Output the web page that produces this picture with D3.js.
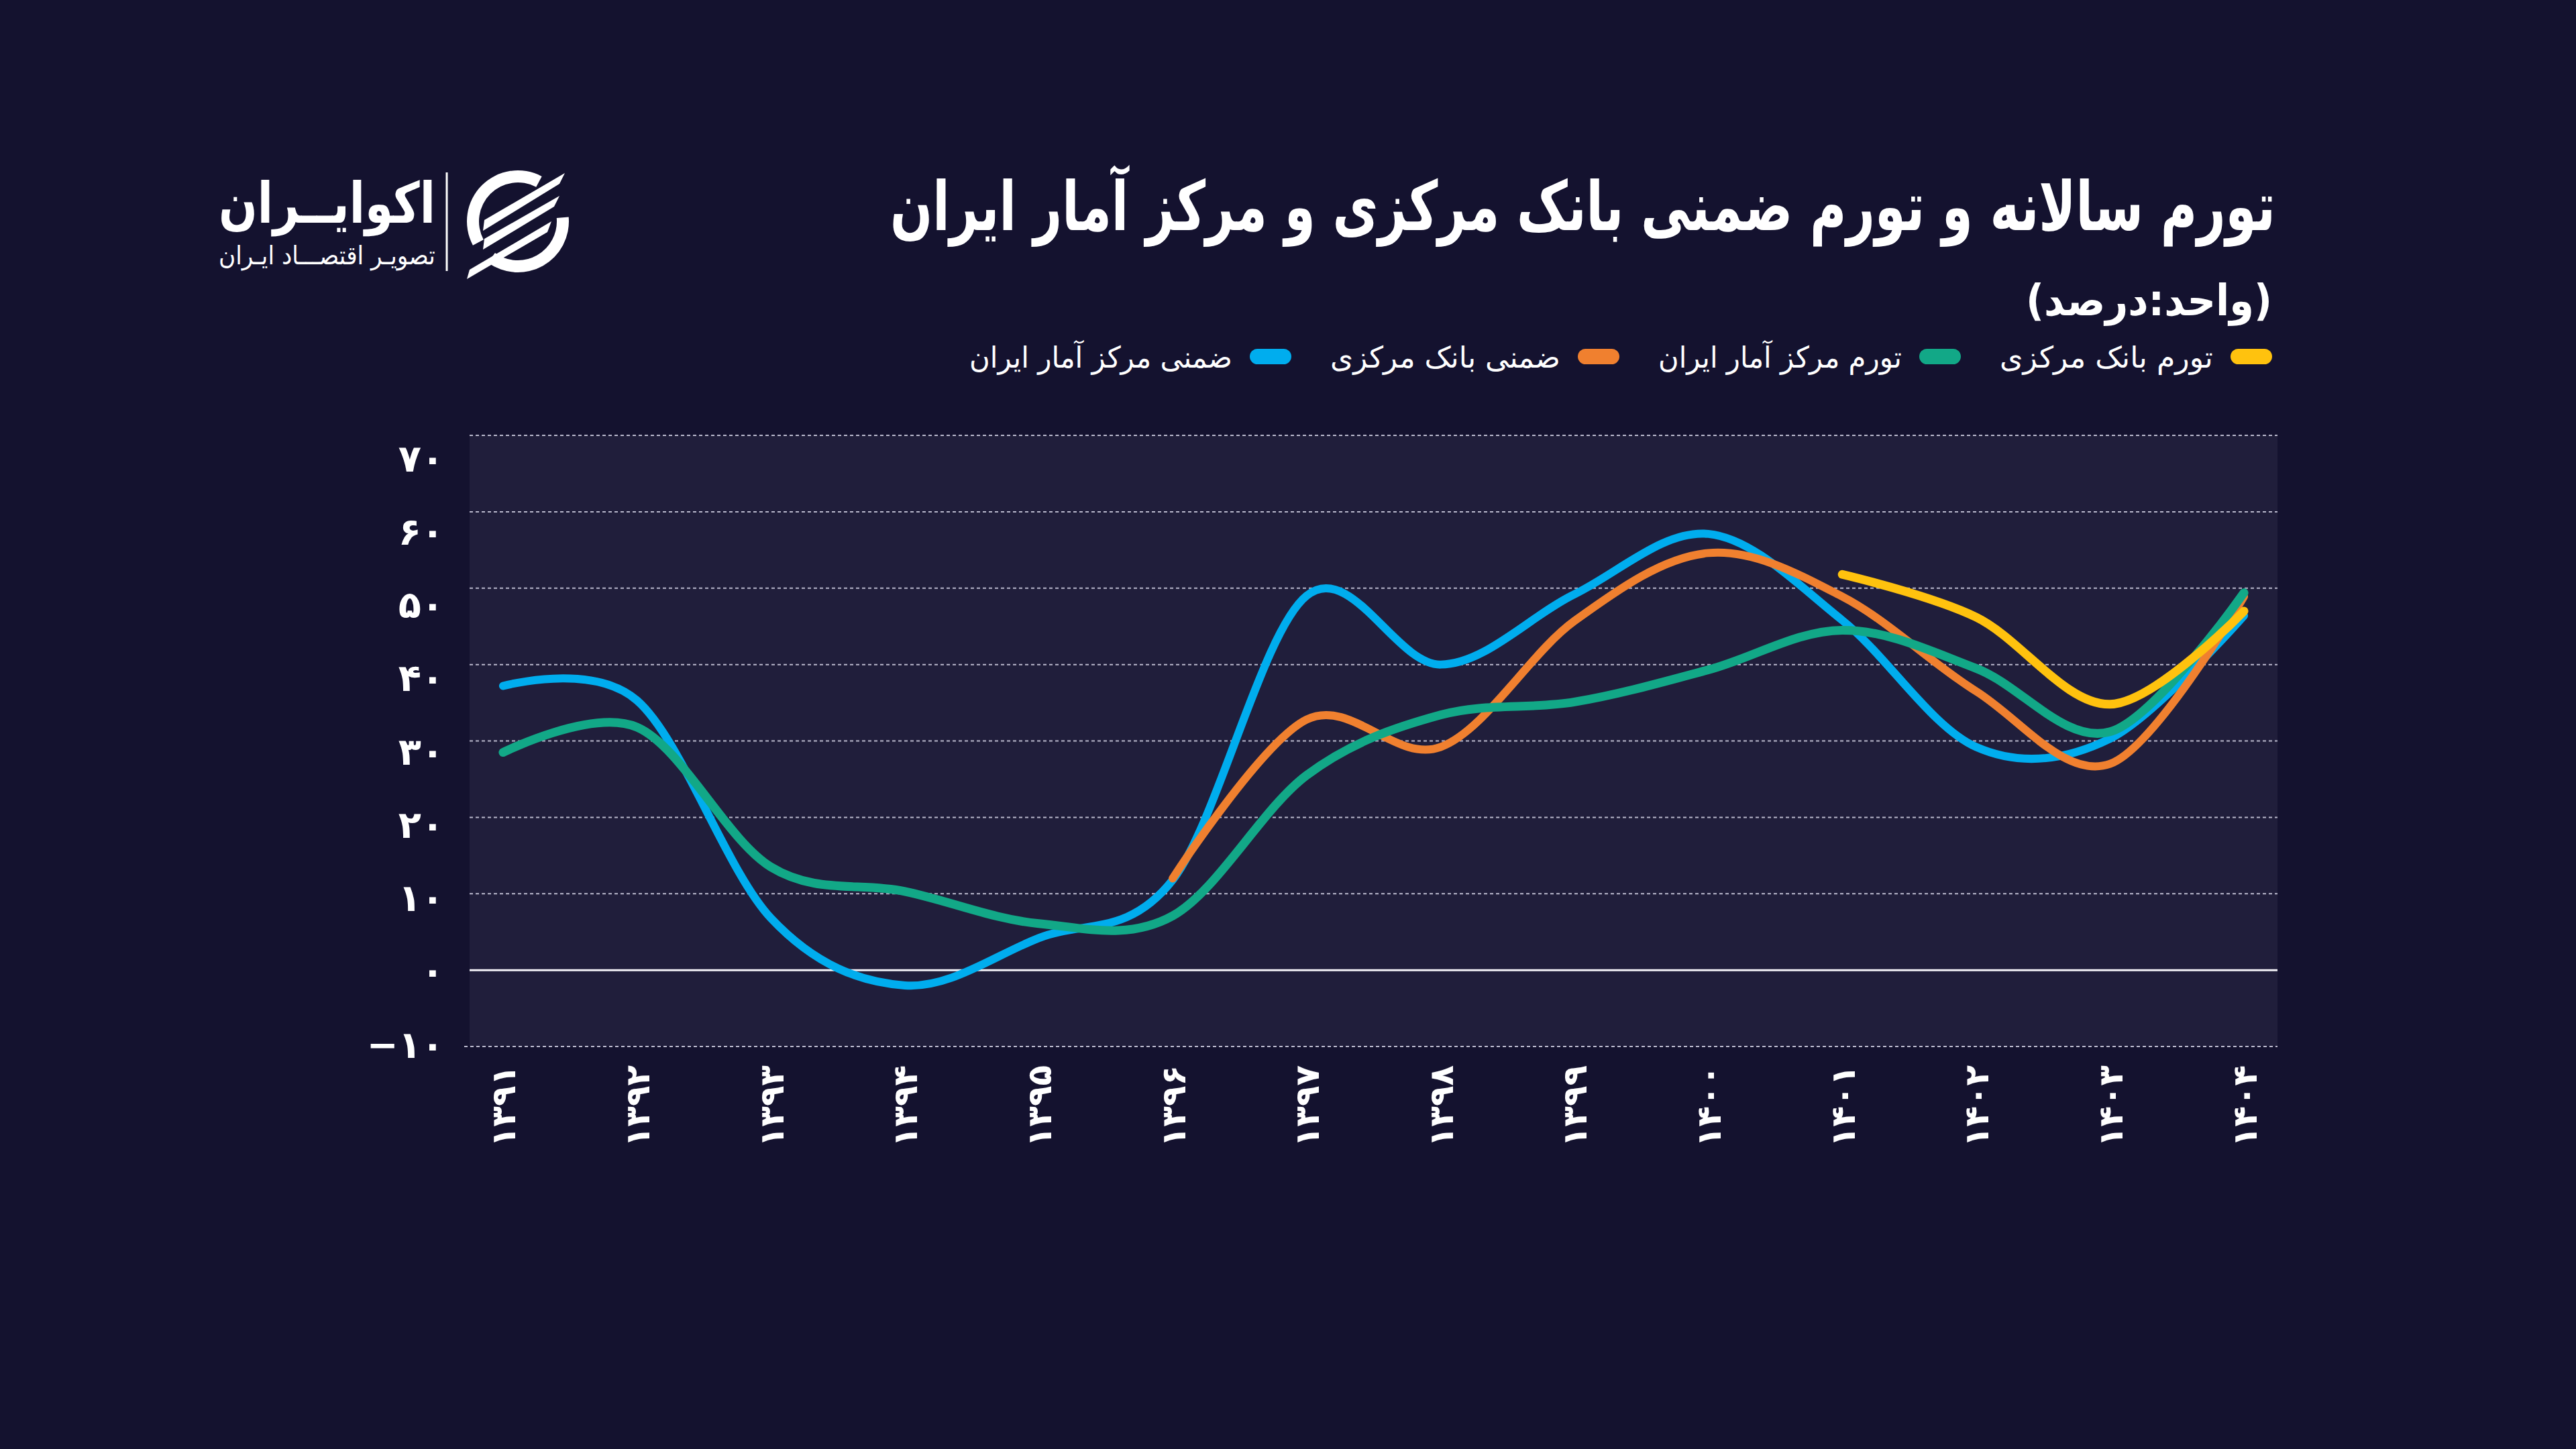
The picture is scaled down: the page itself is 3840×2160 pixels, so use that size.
<!DOCTYPE html>
<html>
<head>
<meta charset="utf-8">
<script src="https://cdn.jsdelivr.net/npm/d3@7"></script>
<style>
	body { margin: 0; background: #14122f; }
	svg text { font-family: "DejaVu Sans", sans-serif; fill: #ffffff; }
</style>
</head>
<body>
<div id="chart"></div>
<script>
//data///////////////////////////////////////////////////////////////////////////
var years = ['۱۳۹۱', '۱۳۹۲', '۱۳۹۳', '۱۳۹۴', '۱۳۹۵', '۱۳۹۶', '۱۳۹۷',
	'۱۳۹۸', '۱۳۹۹', '۱۴۰۰', '۱۴۰۱', '۱۴۰۲', '۱۴۰۳', '۱۴۰۴'];
var yTicks = [-10, 0, 10, 20, 30, 40, 50, 60, 70];

var seriesNames = ['تورم بانک مرکزی', 'تورم مرکز آمار ایران', 'ضمنی بانک مرکزی', 'ضمنی مرکز آمار ایران'];
var seriesColors = ['#ffc20e', '#12a887', '#f0802f', '#00adee'];

// تورم بانک مرکزی
var cbiInflation = [null, null, null, null, null, null, null, null, null, null, 51.8, 46.2, 34.8, 47.0];
// تورم مرکز آمار ایران
var sciInflation = [28.5, 31.8, 13.5, 10.3, 6.1, 7.1, 25.5, 33.4, 35.1, 39.3, 44.5, 39.5, 31.2, 49.4];
// ضمنی بانک مرکزی
var cbiImplicit = [null, null, null, null, null, 12.0, 32.8, 29.2, 45.7, 54.6, 48.9, 36.5, 27.0, 48.9];
// ضمنی مرکز آمار ایران
var sciImplicit = [37.2, 35.3, 6.8, -2.0, 4.2, 11.8, 49.0, 40.0, 49.2, 57.1, 45.8, 29.2, 30.3, 46.4];

//layout///////////////////////////////////////////////////////////////////////////
var width = 3840, height = 2160;
var plot = {left: 700, right: 3395, top: 649, bottom: 1560};
var legendTextWidths = [318, 363, 343, 392];

var allSeries = [cbiInflation, sciInflation, cbiImplicit, sciImplicit];
var strokeWidths = [13, 13, 12, 12];
var drawOrder = [3, 2, 1, 0];

function toFa(v) {
	return String(v).replace(/\d/g, function(d) { return '۰۱۲۳۴۵۶۷۸۹'[+d]; }).replace('-', '−');
}

// put a text so its right edge sits at `right`, squeezed to `w` pixels wide
function placeText(parent, str, right, baseline, w, size, weight) {
	var g = parent.append('g');
	var t = g.append('text')
		.attr('x', 0)
		.attr('y', 0)
		.style('font-size', size + 'px')
		.style('font-weight', weight)
		.text(str);
	var b = t.node().getBBox();
	var s = w ? w / b.width : 1;
	g.attr('transform', 'translate(' + (right - (b.x + b.width) * s) + ',' + baseline + ') scale(' + s + ',1)');
	return g;
}

var svg = d3.select('#chart').append('svg')
	.attr('width', width)
	.attr('height', height);

svg.append('rect')
	.attr('width', width)
	.attr('height', height)
	.attr('fill', '#14122f');

var x = d3.scalePoint()
	.domain(years)
	.range([plot.left, plot.right])
	.padding(0.25);

var y = d3.scaleLinear()
	.domain([-10, 70])
	.range([plot.bottom, plot.top]);

// the tick labels in the original sit on a slightly tighter scale than the grid
var yLabel = d3.scaleLinear()
	.domain([-10, 70])
	.range([1556, 682]);

//plot area///////////////////////////////////////////////////////////////////////////
svg.append('rect')
	.attr('x', plot.left)
	.attr('y', plot.top)
	.attr('width', plot.right - plot.left)
	.attr('height', plot.bottom - plot.top)
	.attr('fill', '#201e3b');

svg.append('g').selectAll('line')
	.data(yTicks.filter(function(t) { return t !== 0; }))
	.enter().append('line')
	.attr('x1', function(t) { return t === -10 ? plot.left - 8 : plot.left; })
	.attr('x2', plot.right)
	.attr('y1', function(t) { return y(t); })
	.attr('y2', function(t) { return y(t); })
	.attr('stroke', '#b9b8cc')
	.attr('stroke-width', 2)
	.attr('stroke-dasharray', '5,4');

svg.append('line')
	.attr('x1', plot.left)
	.attr('x2', plot.right)
	.attr('y1', y(0))
	.attr('y2', y(0))
	.attr('stroke', '#f2f2f7')
	.attr('stroke-width', 3);

// y axis
var yAxis = svg.append('g')
	.attr('transform', 'translate(' + plot.left + ',0)')
	.call(d3.axisLeft(yLabel).tickValues(yTicks).tickFormat(toFa).tickSize(0).tickPadding(38));
yAxis.select('.domain').remove();
yAxis.selectAll('text')
	.style('font-size', '56px')
	.style('font-weight', 'bold')
	.attr('dy', '0.36em');

// x axis
var xAxis = svg.append('g')
	.attr('transform', 'translate(0,' + plot.bottom + ')')
	.call(d3.axisBottom(x).tickSize(0));
xAxis.select('.domain').remove();
xAxis.selectAll('text')
	.style('font-size', '50px')
	.style('font-weight', 'bold')
	.style('text-anchor', 'end')
	.attr('transform', 'rotate(-90)')
	.attr('x', -28)
	.attr('y', 0)
	.attr('dy', '0.36em');

//lines///////////////////////////////////////////////////////////////////////////
var line = d3.line()
	.defined(function(d) { return d != null; })
	.x(function(d, i) { return x(years[i]); })
	.y(function(d) { return y(d); })
	.curve(d3.curveCardinal.tension(0));

drawOrder.forEach(function(k) {
	svg.append('path')
		.attr('class', 'series')
		.attr('d', line(allSeries[k]))
		.attr('fill', 'none')
		.attr('stroke', seriesColors[k])
		.attr('stroke-width', strokeWidths[k])
		.attr('stroke-linecap', 'round')
		.attr('stroke-linejoin', 'round');
});

//title, legend///////////////////////////////////////////////////////////////////////////
placeText(svg, 'تورم سالانه و تورم ضمنی بانک مرکزی و مرکز آمار ایران', 3392, 343, 2065, 102, 'bold');
placeText(svg, '(واحد:درصد)', 3387, 470, 367, 64, 'bold');

var legendRight = 3387;
seriesNames.forEach(function(name, i) {
	svg.append('rect')
		.attr('x', legendRight - 62)
		.attr('y', 520)
		.attr('width', 62)
		.attr('height', 23)
		.attr('rx', 11.5)
		.attr('fill', seriesColors[i]);
	placeText(svg, name, legendRight - 88, 548, legendTextWidths[i], 44, 'normal');
	legendRight = legendRight - 88 - legendTextWidths[i] - 58;
});

//logo///////////////////////////////////////////////////////////////////////////
placeText(svg, 'اکوایــران', 649, 332, 323, 84, 'bold');
placeText(svg, 'تصویـر اقتصـــاد ایـران', 649, 394, 323, 38, 'normal');

svg.append('line')
	.attr('x1', 666)
	.attr('x2', 666)
	.attr('y1', 257)
	.attr('y2', 404)
	.attr('stroke', '#ffffff')
	.attr('stroke-width', 3);

var icon = svg.append('g')
	.attr('transform', 'translate(772,330)');
var ring = d3.arc().innerRadius(58).outerRadius(76);
icon.append('path')
	.attr('d', ring({startAngle: -118 * Math.PI / 180, endAngle: 28 * Math.PI / 180}))
	.attr('fill', '#ffffff');
icon.append('path')
	.attr('d', ring({startAngle: 85 * Math.PI / 180, endAngle: 216 * Math.PI / 180}))
	.attr('fill', '#ffffff');
var stripes = [
	[[-50, -2], [70, -72], [62, -56], [-52, 14]],
	[[-50, 26], [62, -38], [54, -22], [-52, 42]],
	[[-72, 72], [50, 0], [44, 16], [-76, 86]]
];
icon.selectAll('.stripe')
	.data(stripes)
	.enter().append('path')
	.attr('class', 'stripe')
	.attr('d', function(p) { return 'M' + p.join('L') + 'Z'; })
	.attr('fill', '#ffffff');
</script>
</body>
</html>
